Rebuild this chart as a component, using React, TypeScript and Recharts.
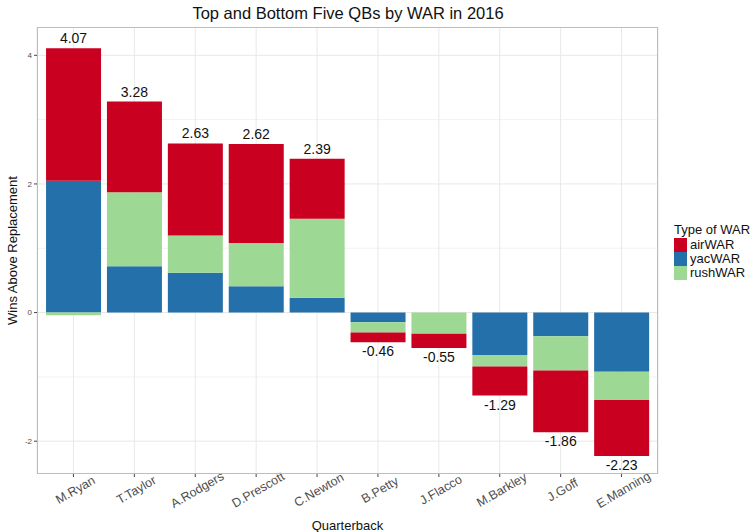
import { BarChart, Bar, XAxis, YAxis, CartesianGrid, LabelList } from 'recharts';

const players = ['M.Ryan', 'T.Taylor', 'A.Rodgers', 'D.Prescott', 'C.Newton', 'B.Petty', 'J.Flacco', 'M.Barkley', 'J.Goff', 'E.Manning'];
const airWAR = [2.06, 1.41, 1.43, 1.54, 0.93, -0.15, -0.22, -0.45, -0.96, -0.87];
const yacWAR = [2.05, 0.72, 0.62, 0.41, 0.23, -0.15, 0, -0.66, -0.37, -0.92];
const rushWAR = [-0.04, 1.15, 0.58, 0.67, 1.23, -0.16, -0.33, -0.18, -0.53, -0.44];
const totals = [4.07, 3.28, 2.63, 2.62, 2.39, -0.46, -0.55, -1.29, -1.86, -2.23];
const yTicks = [-2, 0, 2, 4];

const COLORS = { air: '#ca0020', yac: '#2470aa', rush: '#9dd894' };
const FONT = 'Arial, "Liberation Sans", sans-serif';

const data = players.map((name, i) => ({
  name,
  airWAR: airWAR[i],
  yacWAR: yacWAR[i],
  rushWAR: rushWAR[i],
  total: totals[i],
}));

// total above positive stacks, below negative ones
function TotalLabel(props: any) {
  const { x, y, width, height, value } = props;
  const top = Math.min(y, y + height);
  const bottom = Math.max(y, y + height);
  const ty = value >= 0 ? top - 5 : bottom + 14;
  return (
    <text x={x + width / 2} y={ty} textAnchor="middle" fontSize={14} fill="#111" fontFamily={FONT}>
      {value.toFixed(2)}
    </text>
  );
}

function AngledTick(props: any) {
  const { x, y, payload } = props;
  const cx = x + 2;
  const cy = y + 11;
  return (
    <text
      x={cx}
      y={cy}
      transform={`rotate(-30, ${cx}, ${cy})`}
      textAnchor="middle"
      dominantBaseline="central"
      fontSize={12.5}
      fill="#4d4d4d"
      fontFamily={FONT}
    >
      {payload.value}
    </text>
  );
}

function LegendBox() {
  const items = [
    { label: 'airWAR', color: COLORS.air },
    { label: 'yacWAR', color: COLORS.yac },
    { label: 'rushWAR', color: COLORS.rush },
  ];
  return (
    <div style={{ position: 'absolute', left: 674, top: 223, fontFamily: FONT, fontSize: 13, color: '#111', lineHeight: '14px' }}>
      <div style={{ marginBottom: 1 }}>Type of WAR</div>
      {items.map((it) => (
        <div key={it.label} style={{ display: 'flex', alignItems: 'center', height: 14 }}>
          <div style={{ width: 13, height: 14, background: it.color, marginRight: 3 }} />
          <span>{it.label}</span>
        </div>
      ))}
    </div>
  );
}

export default function App() {
  return (
    <div style={{ position: 'absolute', left: 0, top: 0, width: 756, height: 532, background: '#fff' }}>
      <div
        style={{
          position: 'absolute',
          left: 0,
          top: 4,
          width: 696,
          textAlign: 'center',
          fontFamily: FONT,
          fontSize: 16.5,
          color: '#111',
        }}
      >
        Top and Bottom Five QBs by WAR in 2016
      </div>
      <BarChart
        width={756}
        height={532}
        data={data}
        stackOffset="sign"
        barCategoryGap="5%"
        margin={{ top: 27, right: 98, bottom: 0, left: 0 }}
      >
        <CartesianGrid horizontalValues={[-1, 1, 3]} vertical={false} stroke="#f2f2f2" />
        <CartesianGrid horizontalValues={yTicks} stroke="#e8e8e8" />
        <XAxis
          dataKey="name"
          height={58}
          padding={{ left: 6, right: 6 }}
          axisLine={false}
          tickLine={{ stroke: '#444' }}
          tickSize={3}
          interval={0}
          tick={<AngledTick />}
          label={{ value: 'Quarterback', position: 'insideBottom', offset: 2, fontSize: 13, fill: '#111', fontFamily: FONT }}
        />
        <YAxis
          width={37}
          domain={[-2.51, 4.44]}
          ticks={yTicks}
          allowDataOverflow
          axisLine={false}
          tickLine={{ stroke: '#444' }}
          tickSize={3}
          tick={{ fontSize: 8, fill: '#4d4d4d', fontFamily: FONT }}
          label={{ value: 'Wins Above Replacement', angle: -90, position: 'insideLeft', offset: 12, fontSize: 13, fill: '#111', fontFamily: FONT, style: { textAnchor: 'middle' } }}
        />
        <Bar dataKey="yacWAR" stackId="war" fill={COLORS.yac} isAnimationActive={false} />
        <Bar dataKey="rushWAR" stackId="war" fill={COLORS.rush} isAnimationActive={false} />
        <Bar dataKey="airWAR" stackId="war" fill={COLORS.air} isAnimationActive={false}>
          <LabelList dataKey="total" content={<TotalLabel />} />
        </Bar>
      </BarChart>
      <LegendBox />
      <div
        style={{
          position: 'absolute',
          left: 37,
          top: 27,
          width: 621,
          height: 447,
          border: '1px solid #bdbdbd',
          boxSizing: 'border-box',
          pointerEvents: 'none',
        }}
      />
    </div>
  );
}
